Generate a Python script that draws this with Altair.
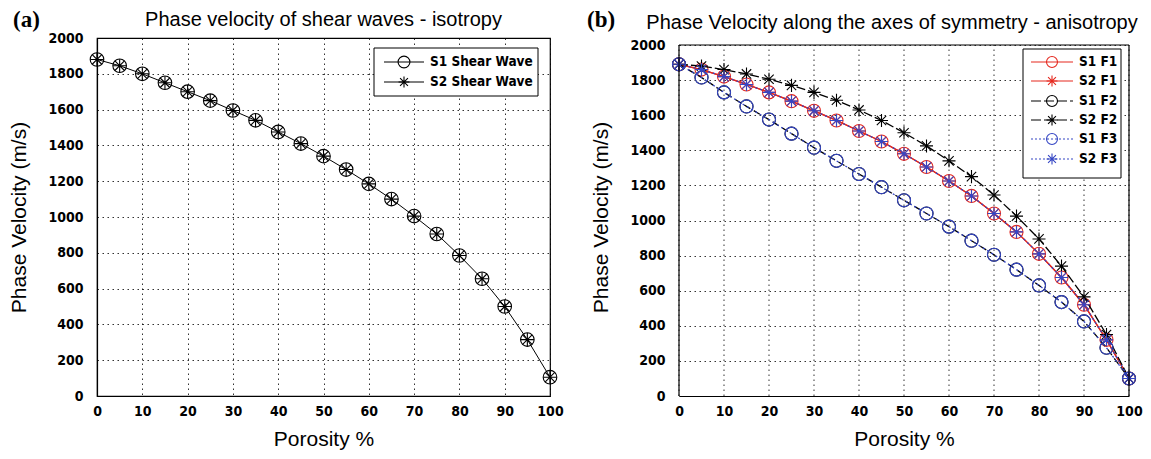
import altair as alt
import pandas as pd

porosity = list(range(0, 101, 5))

# Panel (a) - isotropy
iso_s1 = [1880, 1845, 1800, 1750, 1700, 1650, 1595, 1540, 1475, 1410, 1340,
          1265, 1185, 1100, 1005, 905, 785, 655, 500, 315, 105]
iso_s2 = [1880, 1845, 1800, 1750, 1700, 1650, 1595, 1540, 1475, 1410, 1340,
          1265, 1185, 1100, 1005, 905, 785, 655, 500, 315, 105]

# Panel (b) - anisotropy
s1_f1 = [1890, 1860, 1820, 1775, 1730, 1680, 1625, 1570, 1510, 1450, 1380,
         1305, 1225, 1140, 1040, 935, 810, 675, 520, 320, 100]
s2_f1 = [1890, 1860, 1820, 1775, 1730, 1680, 1625, 1570, 1510, 1450, 1380,
         1305, 1225, 1140, 1040, 935, 810, 675, 520, 320, 100]
s1_f2 = [1890, 1815, 1730, 1650, 1575, 1495, 1415, 1340, 1265, 1190, 1115,
         1040, 965, 885, 805, 720, 630, 535, 425, 275, 100]
s2_f2 = [1890, 1880, 1860, 1835, 1805, 1770, 1730, 1685, 1630, 1570, 1500,
         1425, 1340, 1250, 1145, 1025, 895, 740, 565, 350, 100]
s1_f3 = [1890, 1815, 1730, 1650, 1575, 1495, 1415, 1340, 1265, 1190, 1115,
         1040, 965, 885, 805, 720, 630, 535, 425, 275, 100]
s2_f3 = [1890, 1860, 1820, 1775, 1730, 1680, 1625, 1570, 1510, 1450, 1380,
         1305, 1225, 1140, 1040, 935, 810, 675, 520, 320, 100]

x_ticks = list(range(0, 101, 10))
y_ticks = list(range(0, 2001, 200))
x_range = [0, 100]
y_range = [0, 2000]

RED = "#e5281e"
BLUE = "#3546c4"
BLACK = "#000000"
STAR = "M0,-1L0,1M-1,0L1,0M-0.72,-0.72L0.72,0.72M-0.72,0.72L0.72,-0.72"

LABEL_FONT = "Liberation Sans Narrow, DejaVu Sans Condensed, Arial Narrow, sans-serif"
TITLE_FONT = "Liberation Sans, Arial, sans-serif"
GRID_DASH = [1.5, 3.5]

# right panel plot is 351 px tall inside a 358 px group -> y domain top extends a bit
Y_TOP_RIGHT = 2000 * 358 / 351


def axes(xf="porosity", yf="v", ytop=2000, xgrid=True, ydomain=True):
    x = alt.X(f"{xf}:Q",
              scale=alt.Scale(domain=[0, 100], nice=False, zero=False),
              axis=alt.Axis(values=x_ticks, title="Porosity %", format="d", grid=xgrid))
    y = alt.Y(f"{yf}:Q",
              scale=alt.Scale(domain=[0, ytop], nice=False),
              axis=alt.Axis(values=y_ticks, title="Phase Velocity (m/s)", format="d",
                            domain=ydomain))
    return x, y


def series(values, color, dash, shape, size, sw=1.2, **ax):
    df = pd.DataFrame({"porosity": porosity, "v": values})
    x, y = axes(**ax)
    line_kw = dict(color=color, strokeWidth=sw)
    if dash:
        line_kw["strokeDash"] = dash
    line = alt.Chart(df).mark_line(**line_kw).encode(x=x, y=y)
    pts = alt.Chart(df).mark_point(shape=shape, filled=False, color=color,
                                   size=size, strokeWidth=1.1, opacity=1).encode(x=x, y=y)
    return [line, pts]


def legend(items, bx, by, bw, bh, row_y, lx0, lx1, tx, fs=13):
    one = pd.DataFrame({"k": [0]})
    layers = [alt.Chart(one).mark_rect(fill="white", stroke="black", strokeWidth=1).encode(
        x=alt.value(bx), x2=alt.value(bx + bw), y=alt.value(by), y2=alt.value(by + bh))]
    for (label, color, dash, shape, size), yy in zip(items, row_y):
        kw = dict(color=color, strokeWidth=1.2)
        if dash:
            kw["strokeDash"] = dash
        layers.append(alt.Chart(one).mark_rule(**kw).encode(
            x=alt.value(lx0), x2=alt.value(lx1), y=alt.value(yy)))
        layers.append(alt.Chart(one).mark_point(shape=shape, filled=False, color=color,
                                               size=size, strokeWidth=1.1, opacity=1).encode(
            x=alt.value((lx0 + lx1) / 2), y=alt.value(yy)))
        layers.append(alt.Chart(one).mark_text(align="left", baseline="middle", font=LABEL_FONT,
                                              fontWeight="bold", fontSize=fs, color="black").encode(
            x=alt.value(tx), y=alt.value(yy), text=alt.value(label)))
    return layers


def tag(label, x, y):
    one = pd.DataFrame({"k": [0]})
    return alt.Chart(one).mark_text(align="left", baseline="top",
                                    font="Liberation Serif, Times New Roman, serif",
                                    fontWeight="bold", fontSize=23, color="black").encode(
        x=alt.value(x), y=alt.value(y), text=alt.value(label))


def right_frame_and_grid():
    xs, ys = axes(xf="px", yf="py", ytop=Y_TOP_RIGHT, xgrid=False, ydomain=False)
    grid_df = pd.DataFrame({"px": x_ticks, "py": [y_range[0]] * len(x_ticks),
                            "py2": [y_range[1]] * len(x_ticks)})
    grid = alt.Chart(grid_df).mark_rule(color="black", strokeDash=GRID_DASH, opacity=0.8,
                                        strokeWidth=1).encode(x=xs, y=ys, y2="py2:Q")
    vert = pd.DataFrame({"px": x_range, "py": [y_range[0]] * 2, "py2": [y_range[1]] * 2})
    vframe = alt.Chart(vert).mark_rule(color="black", strokeWidth=1.2).encode(
        x=xs, y=ys, y2="py2:Q")
    top = pd.DataFrame({"px": [x_range[0]], "px2": [x_range[1]], "py": [y_range[1]]})
    tframe = alt.Chart(top).mark_rule(color="black", strokeWidth=1.2).encode(
        x=xs, x2="px2:Q", y=ys)
    return grid, [vframe, tframe]


# ---- Panel (a)
left_layers = []
left_layers += series(iso_s1, BLACK, None, "circle", 185, 1.0)
left_layers += series(iso_s2, BLACK, None, STAR, 175, 1.0)[1:]
left_layers += legend(
    [("S1 Shear Wave", BLACK, None, "circle", 140),
     ("S2 Shear Wave", BLACK, None, STAR, 120)],
    277, 10, 164, 48, [24, 44], 287, 327, 333, fs=13.5)
left_layers.append(tag("(a)", -84, -29))

left = alt.layer(*left_layers).properties(
    width=453, height=358,
    title=alt.TitleParams("Phase velocity of shear waves - isotropy", fontSize=20,
                          font=TITLE_FONT, fontWeight="normal", offset=-21, anchor="middle"))

# ---- Panel (b)
rax = dict(ytop=Y_TOP_RIGHT, xgrid=False, ydomain=False)
grid, frame = right_frame_and_grid()
right_layers = [grid]
right_layers += series(s1_f1, RED, None, "circle", 170, 1.3, **rax)
right_layers += series(s2_f1, RED, None, STAR, 170, 1.3, **rax)
right_layers += series(s1_f2, BLACK, [7, 4], "circle", 170, 1.3, **rax)
right_layers += series(s2_f2, BLACK, [9, 3], STAR, 170, 1.3, **rax)
right_layers += series(s1_f3, BLUE, [2, 3], "circle", 170, 1.3, **rax)
right_layers += series(s2_f3, BLUE, [2, 3], STAR, 170, 1.3, **rax)
right_layers += frame
right_layers += legend(
    [("S1 F1", RED, None, "circle", 120),
     ("S2 F1", RED, None, STAR, 120),
     ("S1 F2", BLACK, [10, 3], "circle", 120),
     ("S2 F2", BLACK, [10, 3], STAR, 120),
     ("S1 F3", BLUE, [2, 2], "circle", 120),
     ("S2 F3", BLUE, [2, 2], STAR, 120)],
    344, 11, 98, 129, [24, 43, 63, 82, 101, 121], 352, 394, 400, fs=13.5)
right_layers.append(tag("(b)", -92, -29))

right = alt.layer(*right_layers).properties(
    width=450, height=358,
    view=alt.ViewBackground(stroke="transparent"),
    title=alt.TitleParams("Phase Velocity along the axes of symmetry - anisotropy", fontSize=20,
                          font=TITLE_FONT, fontWeight="normal", offset=-24, anchor="middle", dx=-12))

chart = alt.hconcat(left, right, spacing=22).properties(
    background="white", padding=0
).configure_view(
    stroke="black", strokeWidth=1.2
).configure_axis(
    labelFont=LABEL_FONT, labelFontWeight="bold", labelFontSize=14, labelColor="black",
    titleFont=TITLE_FONT, titleFontWeight="normal", titleFontSize=21, titleColor="black",
    domainColor="black", domainWidth=1.2, ticks=False, labelFlush=False, labelOverlap=False,
    grid=True, gridColor="black", gridDash=GRID_DASH, gridOpacity=0.8, gridWidth=1,
).configure_axisX(titlePadding=10, labelPadding=8, labelAngle=0).configure_axisY(
    titlePadding=18, labelPadding=14)

chart.save("out.html", embed_options={"renderer": "svg", "actions": False})
